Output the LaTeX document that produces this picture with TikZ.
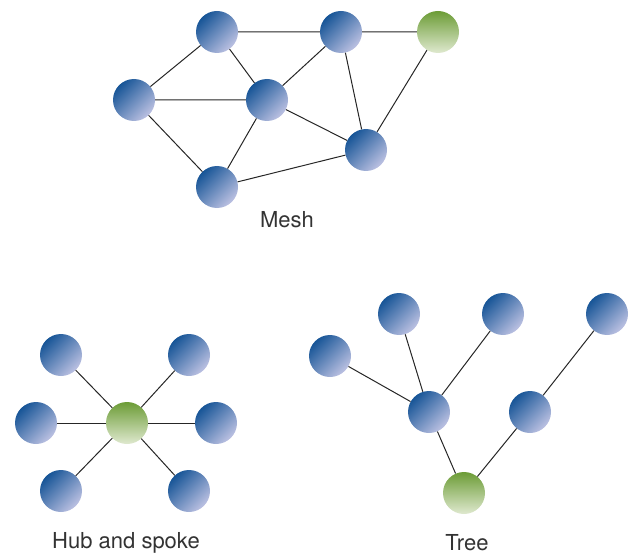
\documentclass[tikz,border=0pt]{standalone}
\usepackage{fontspec}
\setmainfont{TeX Gyre Heros}
\usepackage{tikz}
\definecolor{blueD}{HTML}{175597}
\definecolor{blueL}{HTML}{BCC1E2}
\definecolor{greenD}{HTML}{6C9C36}
\definecolor{greenL}{HTML}{DFE9CF}
\tikzset{
  host/.style={circle, minimum size=42pt, inner sep=0pt, shading=axis,
    top color=blueD, bottom color=blueL, shading angle=45},
  hub/.style={host, top color=greenD, bottom color=greenL},
  link/.style={draw=black!85, line width=1pt},
  caption/.style={font=\fontsize{22}{26}\selectfont, text=black!80}
}

\begin{document}
\begin{tikzpicture}[x=1pt, y=-1pt]
  \useasboundingbox (0,0) rectangle (631,556);

  % mesh
  \node[host] (m1) at (217,32) {};
  \node[host] (m2) at (341,32) {};
  \node[hub]  (m3) at (438,32) {};
  \node[host] (m4) at (134,100) {};
  \node[host] (m5) at (267,100) {};
  \node[host] (m6) at (366,150) {};
  \node[host] (m7) at (217,187) {};
  \node[caption] (meshlbl) at (287,220) {Mesh};

  % hub and spoke
  \node[hub]  (h0) at (127,423) {};
  \node[host] (h1) at (61,355) {};
  \node[host] (h2) at (189,355) {};
  \node[host] (h3) at (36,423) {};
  \node[host] (h4) at (216,423) {};
  \node[host] (h5) at (61,491) {};
  \node[host] (h6) at (189,491) {};
  \node[caption] (hublbl) at (126,543) {Hub and spoke};

  % tree
  \node[host] (t1) at (330,356) {};
  \node[host] (t2) at (399,314) {};
  \node[host] (t3) at (503,314) {};
  \node[host] (t4) at (607,314) {};
  \node[host] (t5) at (429,412) {};
  \node[host] (t6) at (530,412) {};
  \node[hub]  (t7) at (464,493) {};
  \node[caption] (treelbl) at (467,543) {Tree};

  \draw[link]
    (m1) -- (m2) (m2) -- (m3) (m1) -- (m4) (m1) -- (m5)
    (m4) -- (m5) (m4) -- (m7) (m5) -- (m7) (m5) -- (m2)
    (m5) -- (m6) (m2) -- (m6) (m3) -- (m6) (m7) -- (m6);
  \foreach \s in {1,...,6}
    \draw[link] (h0) -- (h\s);
  \draw[link]
    (t1) -- (t5) (t2) -- (t5) (t3) -- (t5)
    (t5) -- (t7) (t7) -- (t6) (t6) -- (t4);
\end{tikzpicture}
\end{document}
